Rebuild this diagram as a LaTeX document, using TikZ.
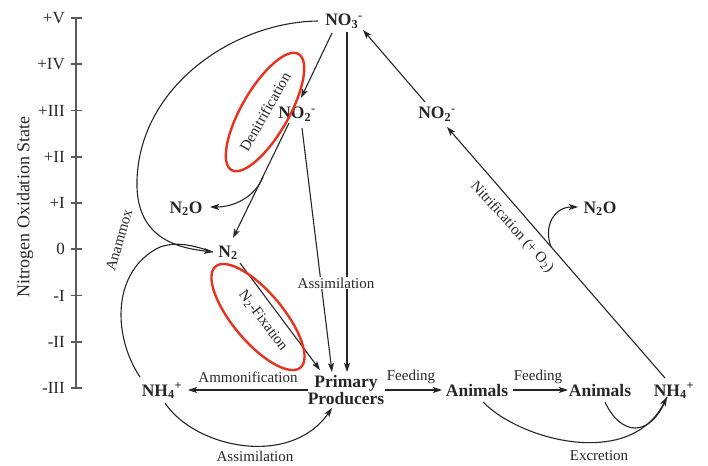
\documentclass[tikz,border=0pt]{standalone}
\usepackage{fontspec}
\setmainfont{Liberation Serif}
\usetikzlibrary{arrows.meta,calc,shapes.geometric}
\definecolor{ink}{HTML}{262626}
\definecolor{axisgray}{HTML}{5A5A5A}
\definecolor{hired}{HTML}{E8321E}
\tikzset{
  species/.style={font=\fontsize{17.5}{15}\selectfont\bfseries, text=ink, inner sep=1pt, text height=12pt, text depth=0pt},
  ppnode/.style={font=\fontsize{17.5}{14.5}\selectfont\bfseries, text=ink, inner sep=1pt, align=center},
  proc/.style={font=\fontsize{15}{16}\selectfont, text=ink, inner sep=1pt},
  ticklab/.style={font=\fontsize{17}{18}\selectfont, text=ink, inner sep=0pt},
  axistitle/.style={font=\fontsize{18}{19}\selectfont, text=ink, inner sep=0pt},
  axisline/.style={draw=axisgray, line width=1.6pt},
  flow/.style={draw=ink, line width=1.1pt, -{Stealth[length=9pt,width=6pt,inset=2pt]}},
  plainflow/.style={draw=ink, line width=1.1pt},
  hilite/.style={draw=hired, line width=2.4pt, ellipse, inner sep=0pt}
}
\begin{document}
\begin{tikzpicture}[x=1pt,y=-1pt]
\useasboundingbox (0,0) rectangle (708,465);
% axis
\draw[axisline] (76,18) -- (76,388);
\foreach \lab [count=\k from 0] in {+V,+IV,+III,+II,+I,0,-I,-II,-III} {
  \draw[axisline] (71,{18+46.25*\k}) -- (82,{18+46.25*\k});
  \node[ticklab, anchor=east] (tk\k) at (65,{18+46.25*\k}) {\lab};
}
\node[axistitle, rotate=90] (axtitle) at (25,207) {Nitrogen Oxidation State};

% species
\node[species] (no3) at (344,20) {NO\textsubscript{3}\textsuperscript{-}};
\node[species] (no2l) at (297,113) {NO\textsubscript{2}\textsuperscript{-}};
\node[species] (no2r) at (437,113) {NO\textsubscript{2}\textsuperscript{-}};
\node[species] (n2ol) at (186,207) {N\textsubscript{2}O};
\node[species] (n2) at (228,251) {N\textsubscript{2}};
\node[species] (n2or) at (600,207) {N\textsubscript{2}O};
\node[species] (nh4l) at (162,390) {NH\textsubscript{4}\textsuperscript{+}};
\node[ppnode] (pp) at (346,390) {Primary\\Producers};
\node[species] (an1) at (477,390) {Animals};
\node[species] (an2) at (600,390) {Animals};
\node[species] (nh4r) at (674,390) {NH\textsubscript{4}\textsuperscript{+}};

% connectors
\draw[flow] ($(no3)+(-12,13)$) -- ($(no2l)+(4,-15)$);
\draw[flow] ($(no3)+(3,12)$) -- ($(pp)+(1,-18)$);
\draw[flow] ($(no2l)+(5,15)$) -- ($(pp)+(-14,-18)$);
\draw[flow] ($(no2l)+(-8,10)$) -- ($(n2)+(5,-13)$);
\draw[flow] ($(no2l)+(-34,64)$) .. controls ($(no2l)+(-42,84)$) and ($(n2ol)+(48,0)$) .. ($(n2ol)+(24,0)$);
\draw[flow] ($(n2)+(12,12)$) -- ($(pp)+(-26,-20)$);
\draw[flow] ($(no3)+(-26,1)$) .. controls (235,22) and (140,85) .. (137,180) .. controls (135,240) and (180,248) .. ($(n2)+(-15,1)$);
\draw[plainflow] ($(nh4l)+(-22,-13)$) .. controls (112,335) and (112,270) .. (160,247) .. controls (180,240) and (200,248) .. ($(n2)+(-15,1)$);
\draw[flow] ($(nh4l)+(3,13)$) .. controls (195,448) and (290,468) .. ($(pp)+(-14,18)$);
\draw[flow] ($(pp)+(-38,0)$) -- ($(nh4l)+(26,0)$);
\draw[flow] ($(pp)+(39,0)$) -- ($(an1)+(-35,0)$);
\draw[flow] ($(an1)+(36,0)$) -- ($(an2)+(-32,0)$);
\draw[flow] ($(an1)+(6,12)$) .. controls (520,440) and (630,470) .. ($(nh4r)+(-7,7)$);
\draw[plainflow] ($(an2)+(5,12)$) .. controls (620,435) and (650,440) .. ($(nh4r)+(-7,7)$);
\draw[flow] ($(nh4r)+(-9,-12)$) -- ($(no2r)+(10,14)$);
\draw[flow] ($(nh4r)+(-123,-143)$) .. controls (543,225) and (555,207) .. ($(n2or)+(-22,0)$);
\draw[flow] ($(no2r)+(-12,-11)$) -- ($(no3)+(19,10)$);

% labels
\node[proc, fill=white] (lassim1) at (336,283) {Assimilation};
\node[proc] (lammon) at (248,377) {Ammonification};
\node[proc] (lassim2) at (255,456) {Assimilation};
\node[proc] (lfeed1) at (411,377) {Feeding};
\node[proc] (lfeed2) at (538,377) {Feeding};
\node[proc] (lexcr) at (599,456) {Excretion};
\node[proc, rotate=-48] (lnitr) at (512,227) {Nitrification (+ O\textsubscript{2})};
\node[proc, rotate=60.5] (ldenit) at (265,112) {Denitrification};
\node[proc, rotate=-53] (lfix) at (263,321) {N\textsubscript{2}-Fixation};
\node[proc, rotate=74] (lanam) at (119,240) {Anammox};

% highlight ellipses
\node[hilite, minimum width=134pt, minimum height=47pt, rotate=60] (eden) at (265,112) {};
\node[hilite, minimum width=132pt, minimum height=50pt, rotate=-50] (efix) at (258,317) {};
\end{tikzpicture}
\end{document}
